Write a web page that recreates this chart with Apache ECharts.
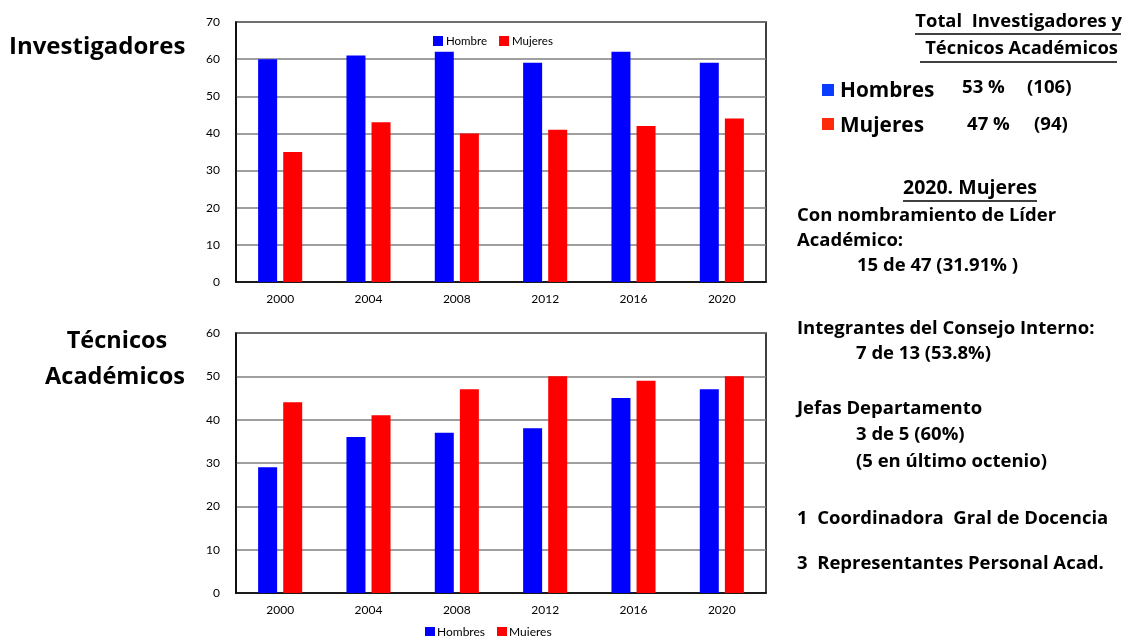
<!DOCTYPE html>
<html><head><meta charset="utf-8">
<script src="https://cdn.jsdelivr.net/npm/echarts@6/dist/echarts.min.js"></script>
<style>html,body{margin:0;padding:0;background:#fff}#c{width:1125px;height:636px}</style>
</head><body><div id="c"></div>
<script>
const years = ['2000','2004','2008','2012','2016','2020'];
const invHombre = [60, 61, 62, 59, 62, 59];
const invMujeres = [35, 43, 40, 41, 42, 44];
const tecHombres = [29, 36, 37, 38, 45, 47];
const tecMujeres = [44, 41, 47, 50, 49, 50];
const leftTitles = ['Investigadores', 'Técnicos', 'Académicos'];
const totalTitle = ['Total  Investigadores y', 'Técnicos Académicos'];
const totalRows = [['Hombres', '53 %', '(106)'], ['Mujeres', '47 %', '(94)']];
const notesTitle = '2020. Mujeres';
const notes = [
  'Con nombramiento de Líder', 'Académico:', '15 de 47 (31.91% )',
  'Integrantes del Consejo Interno:', '7 de 13 (53.8%)',
  'Jefas Departamento', '3 de 5 (60%)', '(5 en último octenio)',
  '1  Coordinadora  Gral de Docencia', '3  Representantes Personal Acad.'
];

const FF = 'Lato, "Open Sans", sans-serif';
const TF = '"Open Sans", sans-serif';
const BLUE = '#0000ff', RED = '#ff0000';
const chart = echarts.init(document.getElementById('c'));

function yAxis(gi, max){
  return {type:'value', gridIndex:gi, min:0, max:max, interval:10,
    axisLine:{show:true, lineStyle:{color:'#000', width:1.5}},
    axisTick:{show:false},
    axisLabel:{color:'#000', fontSize:12, fontFamily:FF, margin:16},
    splitLine:{show:true, lineStyle:{color:'#7f7f7f', width:1.5}}};
}
function xAxis(gi){
  return {type:'category', gridIndex:gi, data:years,
    axisLine:{show:true, lineStyle:{color:'#000', width:1.5}},
    axisTick:{show:false},
    axisLabel:{color:'#000', fontSize:12, fontFamily:FF, margin:11}};
}
function bar(name, data, color, idx){
  return {name, type:'bar', data, xAxisIndex:idx, yAxisIndex:idx,
    barWidth:19, barGap:'32%', itemStyle:{color}};
}

const g = [];
function txt(text, x, y, size, opts){
  g.push({type:'text', style:Object.assign({text, x, y, fontSize:size, fontWeight:'bold',
    fontFamily:TF, fill:'#000', textVerticalAlign:'middle', textAlign:'left'}, opts||{})});
}
function uline(x1, x2, y){
  g.push({type:'line', shape:{x1, y1:y, x2, y2:y}, style:{stroke:'#000', lineWidth:1.5}});
}
txt(leftTitles[0], 9, 47, 24);
txt(leftTitles[1], 117, 341, 23.5, {textAlign:'center'});
txt(leftTitles[2], 115, 377, 23.5, {textAlign:'center'});

txt(totalTitle[0], 1122, 22, 18.4, {textAlign:'right'});
uline(915, 1121, 34);
txt(totalTitle[1], 1118, 49, 18.4, {textAlign:'right'});
uline(920, 1117, 62);
g.push({type:'rect', shape:{x:822, y:84, width:12, height:12}, style:{fill:'#0a3cff'}});
g.push({type:'rect', shape:{x:822, y:118, width:12, height:12}, style:{fill:'#ff2a0a'}});
txt(totalRows[0][0], 840, 91, 20.8);
txt(totalRows[0][1], 962, 88, 18.6);
txt(totalRows[0][2], 1027, 88, 18.6);
txt(totalRows[1][0], 840, 126, 20.8);
txt(totalRows[1][1], 967, 125, 18.6);
txt(totalRows[1][2], 1034, 125, 18.6);

txt(notesTitle, 970, 188, 19.5, {textAlign:'center'});
uline(903, 1037, 201);
const noteY = [216, 241, 266, 329, 354, 409, 435, 462, 519, 564];
const noteX = [797, 797, 857, 797, 856, 797, 856, 856, 797, 797];
notes.forEach((t, i) => txt(t, noteX[i], noteY[i], 18.5));

chart.setOption({
  animation:false,
  backgroundColor:'#fff',
  grid:[
    {left:236, top:22, width:530, height:260, show:true, borderColor:'#000', borderWidth:1.5},
    {left:236, top:333, width:530, height:260, show:true, borderColor:'#000', borderWidth:1.5}
  ],
  legend:[
    {data:['Hombre','Mujeres'], left:433, top:35, padding:0, itemWidth:10, itemHeight:10, itemGap:12,
     icon:'rect', textStyle:{fontSize:11.5, fontFamily:FF, color:'#000', padding:[0,0,0,-2]}},
    {data:['Hombres','Mujeres '], left:425, top:626, padding:0, itemWidth:10, itemHeight:10, itemGap:12,
     icon:'rect', textStyle:{fontSize:12, fontFamily:FF, color:'#000', padding:[0,0,0,-3]}}
  ],
  xAxis:[xAxis(0), xAxis(1)],
  yAxis:[yAxis(0,70), yAxis(1,60)],
  series:[
    bar('Hombre', invHombre, BLUE, 0),
    bar('Mujeres', invMujeres, RED, 0),
    bar('Hombres', tecHombres, BLUE, 1),
    bar('Mujeres ', tecMujeres, RED, 1)
  ],
  graphic:g
});
</script></body></html>
